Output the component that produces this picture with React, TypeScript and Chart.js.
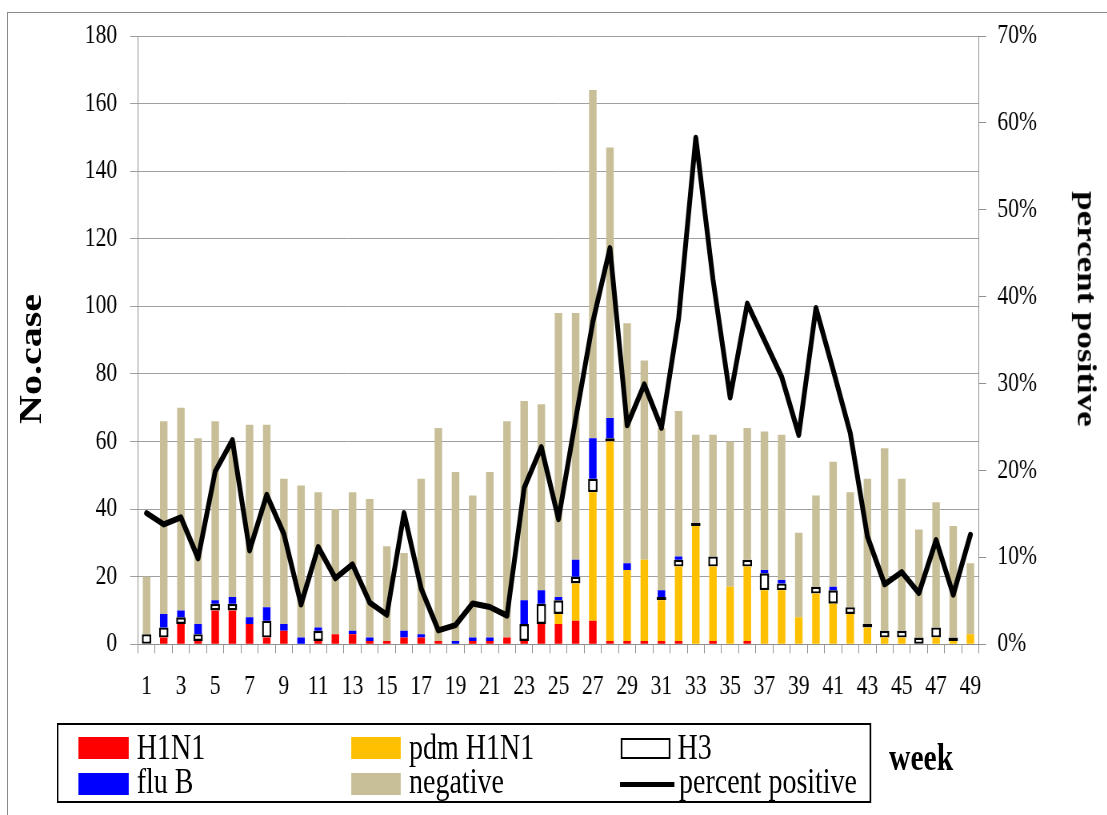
import React, { useEffect, useRef } from "react";
import { Chart, registerables } from "chart.js";

Chart.register(...registerables);

// ---------------- data ----------------
const weeks = [
  "1", "2", "3", "4", "5", "6", "7", "8", "9", "10",
  "11", "12", "13", "14", "15", "16", "17", "18", "19", "20",
  "21", "22", "23", "24", "25", "26", "27", "28", "29", "30",
  "31", "32", "33", "34", "35", "36", "37", "38", "39", "40",
  "41", "42", "43", "44", "45", "46", "47", "48", "49",
];

const h1n1 = [
  0, 2, 6, 1, 10, 10, 6, 2, 4, 0,
  1, 3, 3, 1, 1, 2, 2, 1, 0, 1,
  1, 2, 1, 6, 6, 7, 7, 1, 1, 1,
  1, 1, 0, 1, 0, 1, 0, 0, 0, 0,
  0, 0, 0, 0, 0, 0, 0, 0, 0,
];

const pdmH1n1 = [
  0, 0, 0, 0, 0, 0, 0, 0, 0, 0,
  0, 0, 0, 0, 0, 0, 0, 0, 0, 0,
  0, 0, 0, 0, 3, 11, 38, 59, 21, 24,
  12, 22, 35, 22, 17, 22, 16, 16, 8, 15,
  12, 9, 5, 2, 2, 0, 2, 1, 3,
];

const h3 = [
  3, 3, 2, 2, 2, 2, 0, 5, 0, 0,
  3, 0, 0, 0, 0, 0, 0, 0, 0, 0,
  0, 0, 5, 6, 4, 2, 4, 1, 0, 0,
  1, 2, 1, 3, 0, 2, 5, 2, 0, 2,
  4, 2, 1, 2, 2, 2, 3, 1, 0,
];

const fluB = [
  0, 4, 2, 3, 1, 2, 2, 4, 2, 2,
  1, 0, 1, 1, 0, 2, 1, 0, 1, 1,
  1, 0, 7, 4, 1, 5, 12, 6, 2, 0,
  2, 1, 0, 0, 0, 0, 1, 1, 0, 0,
  1, 0, 0, 0, 0, 0, 0, 0, 0,
];

const negative = [
  17, 57, 60, 55, 53, 46, 57, 54, 43, 45,
  40, 37, 41, 41, 28, 23, 46, 63, 50, 42,
  49, 64, 59, 55, 84, 73, 103, 80, 71, 59,
  48, 43, 26, 36, 43, 39, 41, 43, 25, 27,
  37, 34, 43, 54, 45, 32, 37, 33, 21,
];

const percentPositive = [
  15.1, 13.8, 14.6, 9.9, 19.9, 23.5, 10.8, 17.2, 12.7, 4.6,
  11.2, 7.6, 9.2, 4.8, 3.4, 15.1, 6.4, 1.6, 2.2, 4.7,
  4.3, 3.3, 18.0, 22.7, 14.4, 25.9, 37.1, 45.6, 25.2, 29.9,
  24.9, 37.5, 58.3, 42.0, 28.4, 39.2, 35.0, 30.8, 24.1, 38.7,
  31.6, 24.3, 12.4, 6.9, 8.3, 5.9, 12.0, 5.7, 12.6,
];

const countMax = 180;
const countStep = 20;
const pctMax = 70;
const pctStep = 10;

// ---------------- styling ----------------
const SX = 0.8; // horizontal compression of the whole picture
const W = 1384;
const H = 815;
const SERIF = "'Liberation Serif', 'Times New Roman', serif";
const GRID = "#a0a0a0";
const AXIS = "#909090";
const RED = "#ff0000";
const GOLD = "#ffc000";
const BLUE = "#0000ff";
const TAN = "#c8bf99";

const X = (refX: number) => refX / SX;

const PLOT_LEFT = X(138);
const PLOT_RIGHT = X(979);
const PLOT_BOTTOM = 644.3;

export default function App() {
  const ref = useRef<HTMLCanvasElement>(null);

  useEffect(() => {
    const canvas = ref.current;
    if (!canvas) return;
    const tickFont = { family: SERIF, size: 27 };
    const barPct = 0.44;
    const chart = new Chart(canvas, {
      type: "bar",
      data: {
        labels: weeks,
        datasets: [
          {
            type: "line",
            label: "percent positive",
            data: percentPositive,
            yAxisID: "y1",
            borderColor: "#000",
            backgroundColor: "#000",
            borderWidth: 6,
            pointRadius: 0,
            tension: 0,
            borderJoinStyle: "round",
            borderCapStyle: "round",
            order: 0,
          } as any,
          {
            label: "H1N1",
            data: h1n1,
            backgroundColor: RED,
            barPercentage: barPct,
            categoryPercentage: 1,
            yAxisID: "y",
            order: 1,
          },
          {
            label: "pdm H1N1",
            data: pdmH1n1,
            backgroundColor: GOLD,
            barPercentage: barPct,
            categoryPercentage: 1,
            yAxisID: "y",
            order: 1,
          },
          {
            label: "H3",
            data: h3.map((v) => (v === 0 ? null : v)),
            backgroundColor: "#ffffff",
            borderColor: "#000000",
            borderWidth: 2.4,
            borderSkipped: false,
            barPercentage: 0.55,
            categoryPercentage: 1,
            yAxisID: "y",
            order: 1,
          },
          {
            label: "flu B",
            data: fluB,
            backgroundColor: BLUE,
            barPercentage: barPct,
            categoryPercentage: 1,
            yAxisID: "y",
            order: 1,
          },
          {
            label: "negative",
            data: negative,
            backgroundColor: TAN,
            barPercentage: barPct,
            categoryPercentage: 1,
            yAxisID: "y",
            order: 1,
          },
        ],
      },
      options: {
        responsive: false,
        animation: false,
        devicePixelRatio: 1,
        layout: { padding: { top: 36, left: 0, right: 0, bottom: 0 } },
        plugins: {
          legend: { display: false },
          tooltip: { enabled: false },
          title: { display: false },
        },
        scales: {
          x: {
            stacked: true,
            offset: true,
            grid: {
              offset: true,
              drawOnChartArea: false,
              drawTicks: true,
              tickLength: 9,
              color: AXIS,
            },
            border: { color: AXIS, width: 1 },
            ticks: {
              autoSkip: false,
              maxRotation: 0,
              minRotation: 0,
              padding: 17,
              color: "#000",
              font: tickFont,
              callback: (_v: any, i: number) => (i % 2 === 0 ? weeks[i] : ""),
            },
            afterFit: (s: any) => {
              s.height = H - PLOT_BOTTOM;
            },
          },
          y: {
            stacked: true,
            position: "left",
            min: 0,
            max: countMax,
            ticks: {
              stepSize: countStep,
              padding: 16,
              color: "#000",
              font: tickFont,
            },
            grid: { color: GRID, tickLength: 10 },
            border: { color: AXIS },
            afterFit: (s: any) => {
              s.width = PLOT_LEFT;
            },
          },
          y1: {
            position: "right",
            min: 0,
            max: pctMax,
            ticks: {
              stepSize: pctStep,
              padding: 14,
              color: "#000",
              font: tickFont,
              callback: (v: any) => `${v}%`,
            },
            grid: { drawOnChartArea: false, tickLength: 9, color: AXIS },
            border: { color: AXIS },
            afterFit: (s: any) => {
              s.width = W - PLOT_RIGHT;
            },
          },
        },
      } as any,
    });
    return () => chart.destroy();
  }, []);

  const legendFont = 35;
  const row1 = 747;
  const row2 = 781.3;
  const textStyle = (left: number, center: number): React.CSSProperties => ({
    position: "absolute",
    left,
    top: center - legendFont / 2,
    fontSize: legendFont,
    lineHeight: `${legendFont}px`,
    whiteSpace: "nowrap",
    color: "#000",
  });
  const swatch = (
    left: number,
    top: number,
    width: number,
    height: number,
    bg: string,
    border?: string
  ): React.CSSProperties => ({
    position: "absolute",
    left,
    top,
    width,
    height,
    background: bg,
    border: border,
    boxSizing: "border-box",
  });

  return (
    <>
      <div
        style={{
          position: "fixed",
          left: 7,
          top: 12,
          width: 1200,
          height: 900,
          borderLeft: "1px solid #8a8a8a",
          borderTop: "1px solid #8a8a8a",
        }}
      />
      <div
        style={{
          position: "fixed",
          left: 0,
          top: 0,
          width: W,
          height: H,
          transform: `scaleX(${SX})`,
          transformOrigin: "0 0",
          fontFamily: SERIF,
        }}
      >
        <canvas
          ref={ref}
          width={W}
          height={H}
          style={{ position: "absolute", left: 0, top: 0 }}
        />
        {/* axis titles */}
        <div
          style={{
            position: "absolute",
            left: X(30),
            top: 359,
            transform: "translate(-50%, -50%) rotate(-90deg)",
            fontWeight: "bold",
            fontSize: 40,
            lineHeight: "40px",
            whiteSpace: "nowrap",
          }}
        >
          No.case
        </div>
        <div
          style={{
            position: "absolute",
            left: X(1087),
            top: 309,
            transform: "translate(-50%, -50%) rotate(90deg)",
            fontWeight: "bold",
            fontSize: 35,
            lineHeight: "35px",
            whiteSpace: "nowrap",
          }}
        >
          percent positive
        </div>
        {/* legend */}
        <div
          style={{
            position: "absolute",
            left: X(57),
            top: 722.7,
            width: X(871) - X(57),
            height: 80.5,
            border: "2px solid #000",
            boxSizing: "border-box",
          }}
        />
        <div style={swatch(X(78), 737, X(129) - X(78), 22, RED)} />
        <div style={textStyle(X(136.7), row1)}>H1N1</div>
        <div style={swatch(X(78), 772.5, X(129) - X(78), 22, BLUE)} />
        <div style={textStyle(X(136.7), row2)}>flu B</div>
        <div style={swatch(X(351), 737, X(401) - X(351), 22, GOLD)} />
        <div style={textStyle(X(409), row1)}>pdm H1N1</div>
        <div style={swatch(X(351), 772.5, X(401) - X(351), 22, TAN)} />
        <div style={textStyle(X(409), row2)}>negative</div>
        <div style={swatch(X(621), 738, X(670) - X(621), 21, "#fff", "2px solid #000")} />
        <div style={textStyle(X(677.5), row1)}>H3</div>
        <div style={swatch(X(620), 781.5, X(674) - X(620), 5, "#000")} />
        <div style={textStyle(X(679), row2)}>percent positive</div>
        <div
          style={{
            position: "absolute",
            left: X(889),
            top: 757 - 18,
            fontSize: 37,
            lineHeight: "37px",
            fontWeight: "bold",
            whiteSpace: "nowrap",
          }}
        >
          week
        </div>
      </div>
    </>
  );
}
